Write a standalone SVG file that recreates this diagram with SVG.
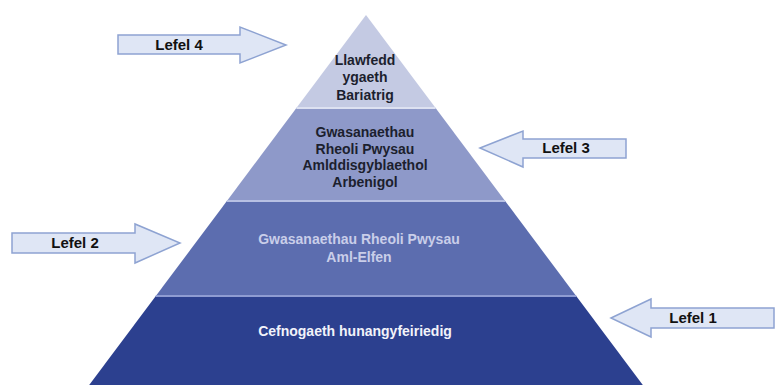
<svg xmlns="http://www.w3.org/2000/svg" width="776" height="385" viewBox="0 0 776 385">
  <style>
    .t { font-family: "Liberation Sans", Arial, sans-serif; font-weight: bold; font-size: 14px; text-anchor: middle; }
    .dark { fill: #1c1f2e; }
    .lt3 { fill: #c9cee9; }
    .lt4 { fill: #f2f3fa; }
    .arrow { fill: #dfe6f5; stroke: #8ea3d2; stroke-width: 1.5; stroke-linejoin: miter; }
    .lbl { font-family: "Liberation Sans", Arial, sans-serif; font-weight: bold; font-size: 15px; text-anchor: middle; fill: #111; }
  </style>
  <rect width="776" height="385" fill="#ffffff"/>

  <g id="tier4">
    <polygon points="155.8,296 576.2,296 642.8,385 89.2,385" fill="#2c408f"/>
    <text class="t lt4" x="355" y="336">Cefnogaeth hunangyfeiriedig</text>
  </g>
  <g id="tier3">
    <polygon points="226.9,201 505.1,201 576.2,296 155.8,296" fill="#5c6daf"/>
    <text class="t lt3" x="359" y="244">Gwasanaethau Rheoli Pwysau</text>
    <text class="t lt3" x="359" y="262">Aml-Elfen</text>
  </g>
  <g id="tier2">
    <polygon points="296.4,108 435.6,108 505.1,201 226.9,201" fill="#8e99c9"/>
    <text class="t dark" x="365" y="137">Gwasanaethau</text>
    <text class="t dark" x="365" y="153.7">Rheoli Pwysau</text>
    <text class="t dark" x="365" y="170.4">Amlddisgyblaethol</text>
    <text class="t dark" x="365" y="187">Arbenigol</text>
  </g>
  <g id="tier1">
    <polygon points="366,15 435.6,108 296.4,108" fill="#c4cae3"/>
    <text class="t dark" x="365" y="65">Llawfedd</text>
    <text class="t dark" x="365" y="82">ygaeth</text>
    <text class="t dark" x="365" y="100">Bariatrig</text>
  </g>

  <g id="separators">
    <line x1="296.4" y1="108" x2="435.6" y2="108" stroke="#dde1f1" stroke-width="2"/>
    <line x1="226.9" y1="201" x2="505.1" y2="201" stroke="#b7c0e3" stroke-width="2"/>
    <line x1="155.8" y1="296" x2="576.2" y2="296" stroke="#8f9cd2" stroke-width="2"/>
  </g>

  <g id="connectors">
    <g id="lefel4">
      <polygon class="arrow" points="118,35 240,35 240,27 286,45 240,63 240,54 118,54"/>
      <text class="lbl" x="179" y="50">Lefel 4</text>
    </g>
    <g id="lefel2">
      <polygon class="arrow" points="12,233 135,233 135,224 180,243 135,263 135,253 12,253"/>
      <text class="lbl" x="75" y="248">Lefel 2</text>
    </g>
    <g id="lefel3">
      <polygon class="arrow" points="480,148 523,131 523,139 626,139 626,158 523,158 523,167"/>
      <text class="lbl" x="566" y="153">Lefel 3</text>
    </g>
    <g id="lefel1">
      <polygon class="arrow" points="611,318 651,299 651,308 774,308 774,328 651,328 651,337"/>
      <text class="lbl" x="693" y="323">Lefel 1</text>
    </g>
  </g>
</svg>
